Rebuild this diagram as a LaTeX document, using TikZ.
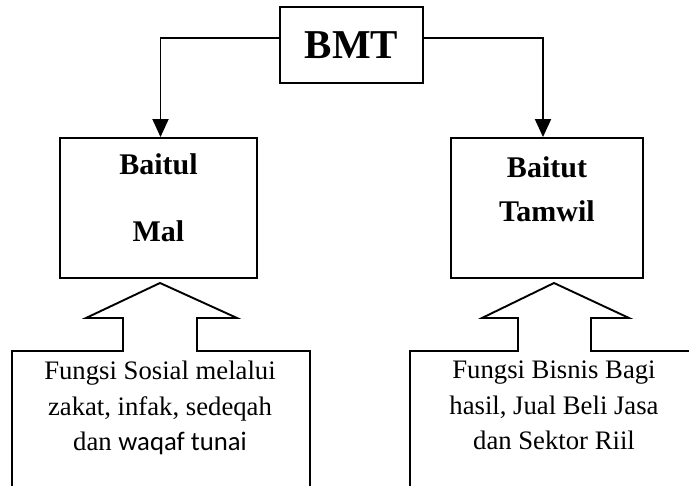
\documentclass[tikz,border=0pt]{standalone}
\usepackage{fontspec}
\setmainfont{Liberation Serif}
\newfontfamily\calibrifont{Carlito}
\usetikzlibrary{positioning, arrows.meta}
\tikzset{
	unit/.style={draw, rectangle, line width=1.9pt, inner sep=0pt},
	title/.style={inner sep=0pt, align=center, font=\bfseries\fontsize{30}{36}\selectfont},
	fungsi/.style={inner sep=0pt, align=center, anchor=north, font=\fontsize{26.7}{35.5}\selectfont},
	callout/.style={line width=1.9pt, line join=miter},
}

\begin{document}
\begin{tikzpicture}[x=1pt, y=-1pt]
	\useasboundingbox (0,0) rectangle (689,486);
	\clip (0,0) rectangle (689,486);

	\node (bmt) [unit, minimum width=143pt, minimum height=76pt, font=\bfseries\fontsize{41}{48}\selectfont] at (351.5,45) {BMT};

	\node (mal) [unit, minimum width=197pt, minimum height=140pt] at (158.5,208) {};
	\node (tamwil) [unit, minimum width=192pt, minimum height=140pt] at (547,208) {};

	% box titles
	\node (maltext) [title, below=16pt of mal.north] {Baitul\\[31pt]Mal};
	\node (tamwiltext) [title, below=19pt of tamwil.north] {Baitut\\[8pt]Tamwil};

	% callouts
	\draw[callout] (12,495) -- (12,351) -- (123,351) -- (123,318) -- (86,318) -- (160,283)
		-- (237,318) -- (197,318) -- (197,351) -- (310,351) -- (310,495);
	\draw[callout] (410,495) -- (410,351) -- (518,351) -- (518,318) -- (482,318) -- (554,283)
		-- (629,318) -- (591,318) -- (591,351) -- (700,351) -- (700,495);

	\node (sosial) [fungsi] at (160,361) {Fungsi Sosial melalui\\zakat, infak, sedeqah\\dan {\calibrifont waqaf tunai}};
	\node (bisnis) [fungsi] at (554,361) {Fungsi Bisnis Bagi\\hasil, Jual Beli Jasa\\dan Sektor Riil};

	\begin{scope}[line width=1.9pt, -{Triangle[width=16pt, length=18pt]}]
		\draw ([yshift=7pt]bmt.west) -| ([xshift=2pt]mal.north);
		\draw ([yshift=7pt]bmt.east) -| ([xshift=-4pt]tamwil.north);
	\end{scope}
\end{tikzpicture}
\end{document}
